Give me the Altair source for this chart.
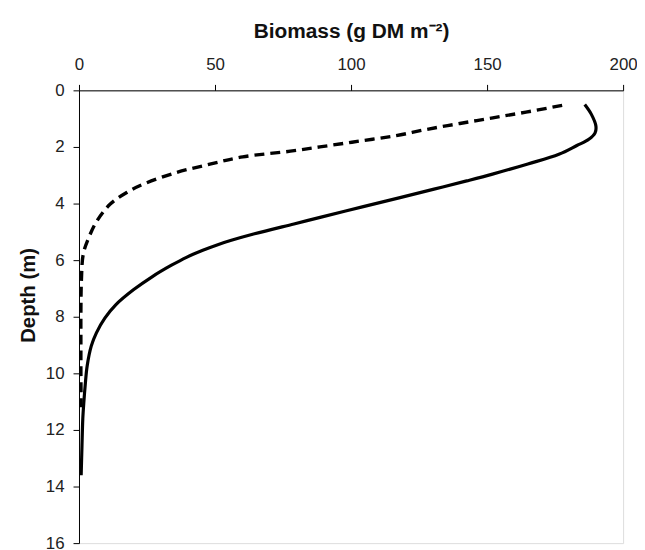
import altair as alt
import pandas as pd

# Solid curve (depth in m, biomass in g DM m^-2)
solid_depth = [0.50, 0.84, 1.26, 1.50, 1.73, 1.95, 2.26, 2.60, 2.96, 3.20, 3.49, 3.79,
               4.11, 4.48, 4.72, 5.07, 5.30, 5.47, 5.65, 5.90, 6.18, 6.58, 7.05, 7.58, 8.05, 8.57,
               9.04, 9.74, 10.4, 11.0, 11.6, 12.55, 13.6]
solid_biomass = [185.9, 188.3, 190.0, 189.7, 187.4, 183.0, 176.4, 165.0, 152.0, 142.5, 130.5, 118.0,
                 104.5, 89.0, 79.0, 64.5, 56.0, 50.5, 45.5, 39.5, 34.0, 27.0, 20.0, 13.5, 9.5, 6.4,
                 4.5, 3.0, 2.3, 1.8, 1.4, 1.1, 0.8]

# Dashed curve
dashed_depth = [0.53, 0.77, 0.97, 1.17, 1.38, 1.60, 1.78, 1.96, 2.15, 2.35, 2.61, 2.90,
                3.31, 3.60, 4.01, 4.60, 5.18, 5.77, 6.68, 7.85, 9.0, 10.0, 11.2]
dashed_biomass = [177.6, 164.3, 152.1, 140.0, 127.8, 116.6, 104.0, 91.3, 77.7, 60.2, 48.1, 35.9,
                  23.8, 17.7, 11.6, 6.7, 3.7, 1.6, 0.9, 0.7, 0.7, 0.7, 0.8]

x_ticks = [0, 50, 100, 150, 200]
y_ticks = [0, 2, 4, 6, 8, 10, 12, 14, 16]

solid_df = pd.DataFrame({"depth": solid_depth, "biomass": solid_biomass,
                         "idx": list(range(len(solid_depth)))})
dashed_df = pd.DataFrame({"depth": dashed_depth, "biomass": dashed_biomass,
                          "idx": list(range(len(dashed_depth)))})

W = 548
H = 456

x_enc = alt.X(
    "biomass:Q",
    scale=alt.Scale(domain=[0, 200], nice=False, zero=False),
    axis=alt.Axis(
        orient="top", values=x_ticks, title="Biomass (g DM m\u207b\u00b2)",
        grid=False, tickSize=6, labelPadding=11, labelFontSize=17, labelFlush=False,
        labelColor="#222222", titleFontSize=21, titleFontWeight="bold",
        titleColor="#111111", titleX=W / 2, titleY=-53,
        titleBaseline="alphabetic", titleAlign="center",
        domainColor="black", tickColor="black", labelFont="Liberation Sans",
        titleFont="Liberation Sans",
    ),
)
y_enc = alt.Y(
    "depth:Q",
    scale=alt.Scale(domain=[0, 16], reverse=True, nice=False, zero=False),
    axis=alt.Axis(
        orient="left", values=y_ticks, title="Depth (m)",
        grid=False, tickSize=6, labelPadding=9, labelFontSize=17, labelFlush=False,
        labelColor="#222222", titleFontSize=20.5, titleFontWeight="bold",
        titleColor="#111111", titleX=-51, titleY=206, titleAngle=-90,
        titleBaseline="middle", titleAlign="center",
        domainColor="black", tickColor="black", labelFont="Liberation Sans",
        titleFont="Liberation Sans",
    ),
)

solid = alt.Chart(solid_df).mark_line(
    color="black", strokeWidth=3.2, interpolate="catmull-rom"
).encode(x=x_enc, y=y_enc, order="idx:Q")

dashed = alt.Chart(dashed_df).mark_line(
    color="black", strokeWidth=3.4, strokeDash=[10, 6], interpolate="catmull-rom"
).encode(x=x_enc, y=y_enc, order="idx:Q")

chart = alt.layer(solid, dashed).properties(
    width=W, height=H,
    autosize=alt.AutoSizeParams(type="none"),
    padding={"left": 71.5, "top": 81, "right": 14, "bottom": 8},
).configure_view(stroke=None).configure(background="white")

chart.save("out.html", embed_options={"renderer": "svg", "actions": False})
